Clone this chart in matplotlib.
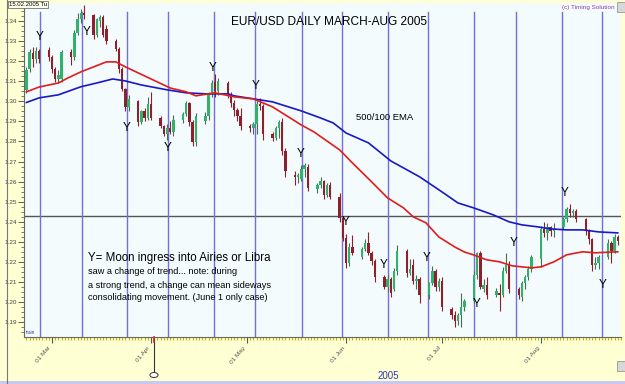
import numpy as np
import pandas as pd
import matplotlib
matplotlib.use('Agg')
from matplotlib import pyplot as plt
import matplotlib.dates as mdates
from matplotlib.patches import Rectangle, Circle
from matplotlib.lines import Line2D

plt.rcParams['font.family'] = ['Liberation Sans', 'DejaVu Sans']

# daily EUR/USD bars, 21 Feb - 25 Aug 2005 (one row per week)
days = pd.bdate_range('2005-02-21', '2005-08-25')
opens = [1.3057, 1.3160, 1.3240, 1.3210, 1.3250,
         1.3255, 1.3220, 1.3160, 1.3110, 1.3110,
         1.3245, 1.3220, 1.3340, 1.3410, 1.3440,
         1.3430, 1.3330, 1.3400, 1.3420, 1.3360,
         1.3300, 1.3260, 1.3160, 1.3060, 1.2970,
         1.3000, 1.2895, 1.2950, 1.2915, 1.2985,
         1.2915, 1.2875, 1.2835, 1.2865, 1.2845,
         1.2905, 1.2935, 1.2990, 1.2895, 1.2795,
         1.2900, 1.2925, 1.3035, 1.3095, 1.3050,
         1.3090, 1.3035, 1.2990, 1.2955, 1.2925,
         1.2875, 1.2865, 1.2885, 1.2985, 1.2975,
         1.2835, 1.2815, 1.2865, 1.2895, 1.2755,
         1.2635, 1.2625, 1.2615, 1.2665, 1.2675,
         1.2565, 1.2585, 1.2605, 1.2535, 1.2585,
         1.2525, 1.2420, 1.2320, 1.2195, 1.2275,
         1.2225, 1.2265, 1.2295, 1.2245, 1.2205,
         1.2125, 1.2075, 1.2115, 1.2065, 1.2155,
         1.2255, 1.2145, 1.2185, 1.2105, 1.2115,
         1.2035, 1.2095, 1.2155, 1.2075, 1.2105,
         1.1965, 1.1935, 1.1905, 1.1935, 1.1975,
         1.2005, 1.2135, 1.2245, 1.2065, 1.2085,
         1.2035, 1.2045, 1.2035, 1.2155, 1.2185,
         1.2065, 1.2025, 1.2095, 1.2125, 1.2165,
         1.2215, 1.2365, 1.2345, 1.2375, 1.2355,
         1.2375, 1.2415, 1.2465, 1.2445, 1.2455,
         1.2415, 1.2355, 1.2315, 1.2185, 1.2195,
         1.2225, 1.2295, 1.2255, 1.2325]
highs = [1.3170, 1.3260, 1.3270, 1.3270, 1.3260,
         1.3270, 1.3230, 1.3170, 1.3155, 1.3255,
         1.3260, 1.3355, 1.3440, 1.3460, 1.3480,
         1.3435, 1.3415, 1.3430, 1.3430, 1.3380,
         1.3310, 1.3270, 1.3170, 1.3065, 1.3030,
         1.3005, 1.2957, 1.2965, 1.3020, 1.3045,
         1.2925, 1.2880, 1.2885, 1.2900, 1.2930,
         1.2945, 1.3000, 1.2995, 1.2905, 1.2940,
         1.2945, 1.3045, 1.3105, 1.3135, 1.3115,
         1.3100, 1.3045, 1.3005, 1.2965, 1.2965,
         1.2885, 1.2895, 1.3000, 1.3015, 1.2985,
         1.2845, 1.2875, 1.2905, 1.2915, 1.2765,
         1.2655, 1.2645, 1.2685, 1.2695, 1.2690,
         1.2595, 1.2625, 1.2610, 1.2595, 1.2600,
         1.2545, 1.2425, 1.2340, 1.2295, 1.2335,
         1.2275, 1.2315, 1.2350, 1.2255, 1.2215,
         1.2135, 1.2135, 1.2125, 1.2170, 1.2285,
         1.2265, 1.2215, 1.2215, 1.2135, 1.2125,
         1.2100, 1.2180, 1.2165, 1.2120, 1.2125,
         1.1975, 1.1955, 1.1945, 1.2045, 1.2015,
         1.2155, 1.2250, 1.2255, 1.2115, 1.2125,
         1.2070, 1.2090, 1.2175, 1.2245, 1.2205,
         1.2075, 1.2105, 1.2135, 1.2180, 1.2235,
         1.2380, 1.2400, 1.2395, 1.2380, 1.2395,
         1.2425, 1.2475, 1.2490, 1.2465, 1.2465,
         1.2420, 1.2365, 1.2320, 1.2225, 1.2235,
         1.2315, 1.2305, 1.2340, 1.2335]
lows = [1.3040, 1.3146, 1.3170, 1.3190, 1.3190,
        1.3200, 1.3140, 1.3095, 1.3090, 1.3095,
        1.3180, 1.3205, 1.3330, 1.3390, 1.3410,
        1.3310, 1.3320, 1.3370, 1.3320, 1.3285,
        1.3250, 1.3140, 1.3050, 1.2950, 1.2950,
        1.2877, 1.2885, 1.2900, 1.2907, 1.2905,
        1.2865, 1.2825, 1.2808, 1.2835, 1.2825,
        1.2890, 1.2925, 1.2875, 1.2775, 1.2778,
        1.2885, 1.2905, 1.3022, 1.3022, 1.3030,
        1.3015, 1.2970, 1.2925, 1.2900, 1.2857,
        1.2845, 1.2835, 1.2835, 1.2955, 1.2808,
        1.2800, 1.2805, 1.2815, 1.2735, 1.2625,
        1.2585, 1.2595, 1.2605, 1.2625, 1.2555,
        1.2545, 1.2570, 1.2515, 1.2525, 1.2515,
        1.2400, 1.2305, 1.2170, 1.2180, 1.2235,
        1.2215, 1.2255, 1.2235, 1.2185, 1.2100,
        1.2065, 1.2055, 1.2025, 1.2055, 1.2135,
        1.2125, 1.2135, 1.2090, 1.2065, 1.1995,
        1.2015, 1.2085, 1.2055, 1.2055, 1.1955,
        1.1915, 1.1875, 1.1885, 1.1875, 1.1955,
        1.1995, 1.2115, 1.2065, 1.2050, 1.2015,
        1.2025, 1.1955, 1.2025, 1.2145, 1.2045,
        1.2015, 1.2005, 1.2065, 1.2110, 1.2150,
        1.2175, 1.2325, 1.2310, 1.2330, 1.2325,
        1.2365, 1.2400, 1.2425, 1.2425, 1.2400,
        1.2335, 1.2290, 1.2155, 1.2165, 1.2165,
        1.2215, 1.2195, 1.2245, 1.2285]
closes = [1.3156, 1.3246, 1.3210, 1.3250, 1.3210,
          1.3220, 1.3160, 1.3110, 1.3130, 1.3245,
          1.3220, 1.3340, 1.3410, 1.3440, 1.3430,
          1.3330, 1.3410, 1.3420, 1.3330, 1.3300,
          1.3260, 1.3160, 1.3060, 1.2970, 1.3010,
          1.2895, 1.2950, 1.2915, 1.2985, 1.2915,
          1.2875, 1.2835, 1.2865, 1.2845, 1.2905,
          1.2935, 1.2990, 1.2895, 1.2795, 1.2925,
          1.2925, 1.3035, 1.3090, 1.3050, 1.3100,
          1.3035, 1.2990, 1.2955, 1.2925, 1.2875,
          1.2865, 1.2885, 1.2985, 1.2975, 1.2835,
          1.2815, 1.2865, 1.2895, 1.2755, 1.2655,
          1.2625, 1.2635, 1.2665, 1.2685, 1.2570,
          1.2585, 1.2605, 1.2535, 1.2585, 1.2525,
          1.2420, 1.2320, 1.2195, 1.2275, 1.2245,
          1.2265, 1.2295, 1.2245, 1.2205, 1.2125,
          1.2075, 1.2115, 1.2045, 1.2155, 1.2255,
          1.2145, 1.2165, 1.2105, 1.2115, 1.2035,
          1.2095, 1.2155, 1.2075, 1.2105, 1.1975,
          1.1935, 1.1905, 1.1935, 1.1975, 1.2005,
          1.2135, 1.2245, 1.2075, 1.2085, 1.2035,
          1.2055, 1.2035, 1.2155, 1.2185, 1.2065,
          1.2035, 1.2095, 1.2125, 1.2165, 1.2225,
          1.2365, 1.2345, 1.2375, 1.2355, 1.2365,
          1.2415, 1.2465, 1.2445, 1.2455, 1.2415,
          1.2355, 1.2315, 1.2185, 1.2195, 1.2225,
          1.2295, 1.2255, 1.2325, 1.2305]

# moving averages
ema_red_dates = ['2005-02-21', '2005-02-25', '2005-03-03', '2005-03-06', '2005-03-10',
                 '2005-03-14', '2005-03-18', '2005-03-21', '2005-03-24', '2005-03-28',
                 '2005-04-01', '2005-04-07', '2005-04-12', '2005-04-15', '2005-04-21',
                 '2005-04-27', '2005-05-03', '2005-05-09', '2005-05-13', '2005-05-18',
                 '2005-05-22', '2005-05-30', '2005-06-03', '2005-06-09', '2005-06-14',
                 '2005-06-19', '2005-06-22', '2005-06-26', '2005-06-30', '2005-07-05',
                 '2005-07-08', '2005-07-11', '2005-07-15', '2005-07-19', '2005-07-23',
                 '2005-07-29', '2005-08-01', '2005-08-05', '2005-08-09', '2005-08-14',
                 '2005-08-18', '2005-08-25']
ema_red = [1.3047, 1.3071, 1.3091, 1.3116, 1.3146,
           1.3171, 1.3196, 1.3196, 1.3171, 1.3141,
           1.3111, 1.3066, 1.3047, 1.3027, 1.3042,
           1.3022, 1.3012, 1.2972, 1.2932, 1.2882,
           1.2847, 1.2758, 1.2693, 1.2599, 1.2519,
           1.2469, 1.2425, 1.2395, 1.2325, 1.2275,
           1.2250, 1.2235, 1.2211, 1.2201, 1.2181,
           1.2171, 1.2176, 1.2201, 1.2236, 1.2251,
           1.2246, 1.2251]
ema_blue_dates = ['2005-02-21', '2005-02-25', '2005-03-03', '2005-03-10', '2005-03-15',
                  '2005-03-20', '2005-03-24', '2005-03-29', '2005-04-06', '2005-04-12',
                  '2005-04-18', '2005-04-25', '2005-04-27', '2005-05-03', '2005-05-09',
                  '2005-05-12', '2005-05-18', '2005-05-24', '2005-05-28', '2005-06-01',
                  '2005-06-08', '2005-06-15', '2005-06-19', '2005-06-24', '2005-07-01',
                  '2005-07-06', '2005-07-11', '2005-07-17', '2005-07-22', '2005-07-26',
                  '2005-07-31', '2005-08-04', '2005-08-09', '2005-08-14', '2005-08-19',
                  '2005-08-25']
ema_blue = [1.2994, 1.3017, 1.3032, 1.3072, 1.3091,
            1.3111, 1.3101, 1.3081, 1.3057, 1.3042,
            1.3037, 1.3037, 1.3027, 1.3012, 1.2997,
            1.2982, 1.2952, 1.2917, 1.2892, 1.2842,
            1.2793, 1.2703, 1.2668, 1.2624, 1.2549,
            1.2494, 1.2469, 1.2435, 1.2400, 1.2385,
            1.2375, 1.2365, 1.2360, 1.2360, 1.2350,
            1.2345]

# moon ingress (Aries / Libra) times and the level of each "Y" mark
ingress = ['2005-02-25 06:00', '2005-03-10 10:00', '2005-03-24 10:00', '2005-04-06 06:00',
           '2005-04-20 14:00', '2005-05-03 10:00', '2005-05-18 02:00', '2005-05-30 14:00',
           '2005-06-14 00:00', '2005-06-26 12:00', '2005-07-10 22:00', '2005-07-24 00:00',
           '2005-08-07 10:00', '2005-08-20 05:00']
y_level = [1.3320, 1.3345, 1.2867, 1.2768, 1.3166, 1.3076, 1.2738,
           1.2400, 1.2186, 1.2221, 1.1992, 1.2295, 1.2544, 1.2086]
y_shift = [0, 1.5, 0, 0, -0.3, 0.35, -0.3, 1.3, -1.25, -0.3, 0.9, -0.6, 0.9, 0]

month_ticks = ['2005-03-01', '2005-04-01', '2005-05-01', '2005-06-01', '2005-07-01', '2005-08-01']
month_labels = ['01 Mar', '01 Apr', '01 May', '01 Jun', '01 Jul', '01 Aug']
cut_level = 1.2429

W, H = 625, 384
def fx(px):
    return px / W
def fy(py):
    return 1 - py / H

yellow = '#ffffd4'
fig = plt.figure(figsize=(W / 100, H / 100), dpi=100, facecolor=yellow)
ax = fig.add_axes([fx(24), fy(337), fx(621) - fx(24), fy(3) - fy(337)])
ax.set_facecolor('#f4fbfd')

x = mdates.date2num(days)
o = np.array(opens); c = np.array(closes)
hi = np.array(highs); lo = np.array(lows)
up = c >= o
green, red = '#2fb36a', '#8e1f2c'
cols = np.where(up, green, red)
ax.vlines(x, lo, hi, colors=np.where(up, '#4a6b55', red), lw=0.8, zorder=3)
body = np.where(np.abs(c - o) < 0.0004, 0.0004, c - o)
ax.bar(x, body, bottom=o, width=0.75, color=cols, lw=0, zorder=4)

ax.plot(pd.to_datetime(ema_blue_dates), ema_blue, color='#1818c8', lw=1.2, zorder=5)
ax.plot(pd.to_datetime(ema_red_dates), ema_red, color='#e01c1c', lw=1.2, zorder=5)

ax.axhline(cut_level, color='#555555', lw=1, zorder=2)
for d, lev, sh in zip(pd.to_datetime(ingress), y_level, y_shift):
    ax.axvline(d, ymin=0, ymax=0.973, color='#7070d8', lw=1, zorder=2)
    ax.text(mdates.date2num(d) + sh, lev, 'Y', ha='center', va='center',
            fontsize=8.5, color='black', zorder=6)

ax.set_xlim(mdates.date2num(pd.Timestamp('2005-02-20 06:00')),
            mdates.date2num(pd.Timestamp('2005-08-26 00:00')))
ax.set_ylim(1.1827, 1.3489)

ax.set_yticks(np.arange(1.19, 1.3451, 0.01))
ax.set_yticklabels(['%.2f' % v for v in np.arange(1.19, 1.3451, 0.01)])
ax.yaxis.set_minor_locator(matplotlib.ticker.MultipleLocator(0.0025))
ax.set_xticks(pd.to_datetime(month_ticks))
ax.set_xticklabels(month_labels, rotation=50, ha='right', va='top')
ax.xaxis.set_minor_locator(mdates.DayLocator())
ax.tick_params(axis='y', labelsize=4.6, colors='#444444', length=4, width=0.6, pad=1)
ax.tick_params(axis='y', which='minor', length=2, width=0.5, color='#444444')
ax.tick_params(axis='x', labelsize=4.6, colors='#555555', length=4, width=0.8, pad=2)
ax.tick_params(axis='x', which='minor', length=2, width=0.8, color='#c8b400')
for s in ['top', 'right']:
    ax.spines[s].set_visible(False)
for s in ['left', 'bottom']:
    ax.spines[s].set_color('#666666')
    ax.spines[s].set_linewidth(0.8)

# annotations
fig.text(fx(329), fy(22), 'EUR/USD DAILY MARCH-AUG 2005', ha='center', va='center', fontsize=8.6)
fig.text(fx(385), fy(117), '500/100 EMA', ha='center', va='center', fontsize=6.8)
fig.text(fx(88), fy(258), 'Y= Moon ingress into Airies or Libra', ha='left', va='center', fontsize=8.3)
note = ['saw a change of trend... note: during',
        'a strong trend, a change can mean sideways',
        'consolidating movement. (June 1 only case)']
for i, line in enumerate(note):
    fig.text(fx(88), fy(272 + 13 * i), line, ha='left', va='center', fontsize=6.6)
fig.text(fx(588), fy(7), '(c) Timing Solution', ha='center', va='center', fontsize=4.6, color='#8a3fb0')
fig.text(fx(9), fy(4.5), '15.02.2005 Tu', ha='left', va='center', fontsize=4.3,
         bbox=dict(boxstyle='square,pad=0.15', fc='#fffff0', ec='#555555', lw=0.5))
fig.text(fx(388), fy(376), '2005', ha='center', va='center', fontsize=7, color='#3333bb')
fig.text(fx(26), fy(333), 'train', ha='left', va='center', fontsize=3.3, color='#3333bb')

# frame details
fig.add_artist(Line2D([fx(6.5), fx(6.5)], [0, 1], color='#777777', lw=0.8))
fig.add_artist(Line2D([fx(154), fx(154)], [fy(338), fy(371)], color='#333333', lw=0.8))
fig.add_artist(Line2D([fx(154), fx(154)], [fy(337), fy(342)], color='#dd2222', lw=1.2))
fig.add_artist(Circle((fx(154), fy(375)), 0.0065, transform=fig.transFigure,
                      fc='white', ec='#333333', lw=0.7))
fig.add_artist(Rectangle((0, 0), 1, 3 / H, transform=fig.transFigure, fc='#c8c8f0', ec='none'))
fig.add_artist(Rectangle((fx(617), fy(12)), 8 / W, 10 / H, transform=fig.transFigure,
                         fc='#d8d8d8', ec='#888888', lw=0.5))
fig.add_artist(Rectangle((fx(617), fy(371)), 8 / W, 10 / H, transform=fig.transFigure,
                         fc='#d8d8d8', ec='#888888', lw=0.5))

fig.savefig('out.png', dpi=100, facecolor=yellow)
